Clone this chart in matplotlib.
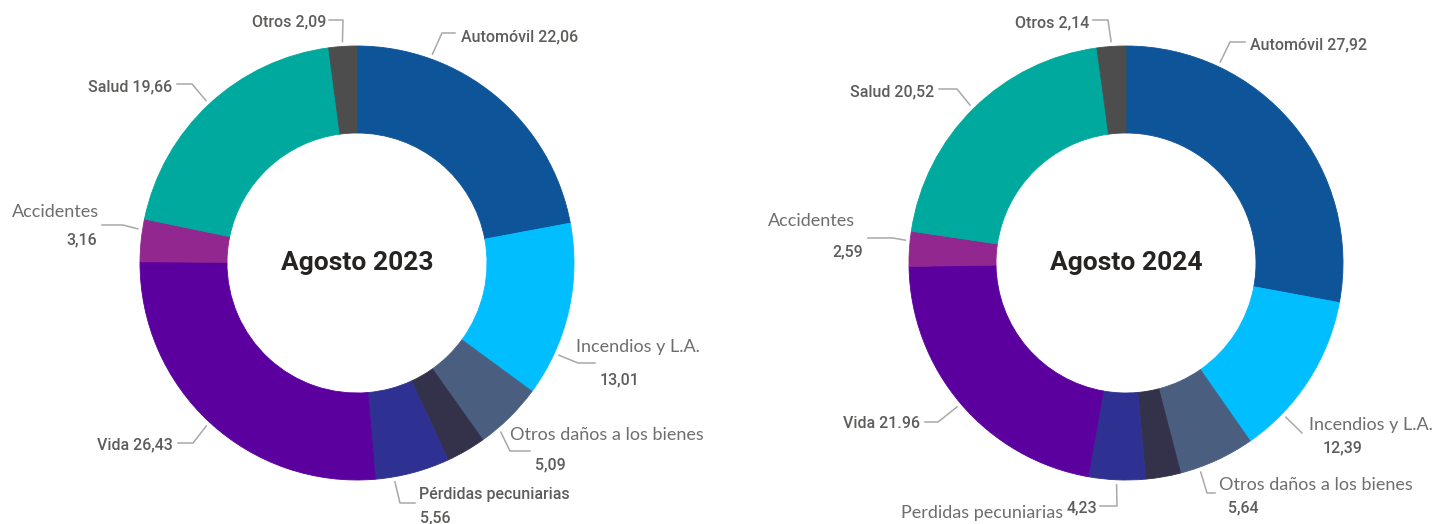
import matplotlib
matplotlib.use('Agg')
import numpy as np
from matplotlib import pyplot as plt

# shares of premiums by line of business (%), clockwise from the top
categories_2023 = ['Automóvil', 'Incendios y L.A.', 'Otros daños a los bienes', 'Crédito y caución',
                   'Pérdidas pecuniarias', 'Vida', 'Accidentes', 'Salud', 'Otros']
values_2023 = [22.06, 13.01, 5.09, 2.94, 5.56, 26.43, 3.16, 19.66, 2.09]

categories_2024 = ['Automóvil', 'Incendios y L.A.', 'Otros daños a los bienes', 'Crédito y caución',
                   'Perdidas pecuniarias', 'Vida', 'Accidentes', 'Salud', 'Otros']
values_2024 = [27.92, 12.39, 5.64, 2.61, 4.23, 21.96, 2.59, 20.52, 2.14]

titles = ['Agosto 2023', 'Agosto 2024']
colors = ['#0D5499', '#00BEFF', '#4A5F80', '#34314A', '#2E3192',
          '#5B009E', '#92278F', '#00A99D', '#4D4D4D']

din_font = ['Roboto', 'DejaVu Sans']
light_font = ['Lato', 'DejaVu Sans']
title_font = ['Roboto', 'DejaVu Sans']

CY = 263
R = 217
W = 87

# label layout per slice: fraction along the wedge for the leader, leader points, texts
layout_2023 = {
    0: dict(frac=.25, path=[(442, 33), (455, 33)], texts=[('both', 461, 37, 'left')]),
    1: dict(frac=.75, path=[(578, 363), (595, 363)],
            texts=[('light', 576, 347, 'left'), ('value', 600, 380, 'left')]),
    2: dict(frac=.73, path=[(510, 451), (530, 451)],
            texts=[('light', 510, 435, 'left'), ('value', 535, 465, 'left')]),
    4: dict(frac=.75, path=[(400, 503), (415, 503)],
            texts=[('name', 419, 495, 'left'), ('value', 420, 518, 'left')]),
    5: dict(frac=.5, path=[(193, 443), (178, 443)], texts=[('both', 173, 445, 'right')]),
    6: dict(frac=.75, path=[(123, 225), (102, 225)],
            texts=[('light', 12, 212, 'left'), ('value', 97, 240, 'right')]),
    7: dict(frac=.5, path=[(192, 84), (177, 84)], texts=[('both', 172, 87, 'right')]),
    8: dict(frac=.5, path=[(343, 20), (329, 20)], texts=[('both', 326, 22, 'right')]),
}
layout_2024 = {
    0: dict(frac=.25, path=[(1230, 42), (1245, 42)], texts=[('both', 1250, 45, 'left')]),
    1: dict(frac=.75, path=[(1302, 433)],
            texts=[('light', 1309, 425, 'left'), ('value', 1323, 448, 'left')]),
    2: dict(frac=.75, path=[(1207, 493), (1215, 493)],
            texts=[('light', 1219, 485, 'left'), ('value', 1228, 508, 'left')]),
    4: dict(frac=.5, path=[(1117, 506), (1100, 506)],
            texts=[('light', 1063, 513, 'right'), ('value', 1097, 508, 'right')]),
    5: dict(frac=.5, path=[(938, 422), (925, 422)], texts=[('both', 920, 423, 'right')]),
    6: dict(frac=.73, path=[(893, 238), (868, 238)],
            texts=[('light', 768, 221, 'left'), ('value', 863, 252, 'right')]),
    7: dict(frac=.5, path=[(957, 89), (939, 89)], texts=[('both', 934, 92, 'right')]),
    8: dict(frac=.5, path=[(1108, 20), (1093, 20)], texts=[('both', 1089, 23, 'right')]),
}
dot_sep = {(1, 5)}  # the 2024 Vida label is written with a point


def fmt(v, sep):
    return f'{v:.2f}'.replace('.', sep)


def donut(ax, k, cats, vals, cx, layout, title):
    wedges, _ = ax.pie(vals, colors=colors, center=(cx, CY), radius=R,
                       startangle=-90, counterclock=True,
                       wedgeprops=dict(width=W, linewidth=0.6))
    for w in wedges:
        w.set_edgecolor(w.get_facecolor())
    din = dict(fontsize=11.5, family=din_font, weight='medium', color='#5F5D5B')
    for i, lay in layout.items():
        w = wedges[i]
        th = np.deg2rad(w.theta1 + lay['frac'] * (w.theta2 - w.theta1))
        ax0 = cx + (R + 5) * np.cos(th)
        ay0 = CY + (R + 5) * np.sin(th)
        xs = [ax0] + [p[0] for p in lay['path']]
        ys = [ay0] + [p[1] for p in lay['path']]
        ax.plot(xs, ys, color='#A8A8A8', lw=1.1)
        sep = '.' if (k, i) in dot_sep else ','
        val = fmt(vals[i], sep)
        for kind, tx, ty, ha in lay['texts']:
            if kind == 'both':
                ax.text(tx, ty, f'{cats[i]} {val}', ha=ha, va='center', **din)
            elif kind == 'name':
                ax.text(tx, ty, cats[i], ha=ha, va='center', **din)
            elif kind == 'value':
                ax.text(tx, ty, val, ha=ha, va='center', **din)
            else:
                ax.text(tx, ty, cats[i], ha=ha, va='center', fontsize=13,
                        family=light_font, color='#6E6E6E')
    ax.text(cx, CY, title, ha='center', va='center', fontsize=19,
            weight='bold', family=title_font, color='#252423')


fig = plt.figure(figsize=(14.34, 5.24), dpi=100)
ax = fig.add_axes([0, 0, 1, 1])
donut(ax, 0, categories_2023, values_2023, 357, layout_2023, titles[0])
donut(ax, 1, categories_2024, values_2024, 1126, layout_2024, titles[1])
ax.set_xlim(0, 1434)
ax.set_ylim(524, 0)
ax.set_aspect('equal')
ax.axis('off')
fig.savefig('out.png', dpi=100, facecolor='white')
